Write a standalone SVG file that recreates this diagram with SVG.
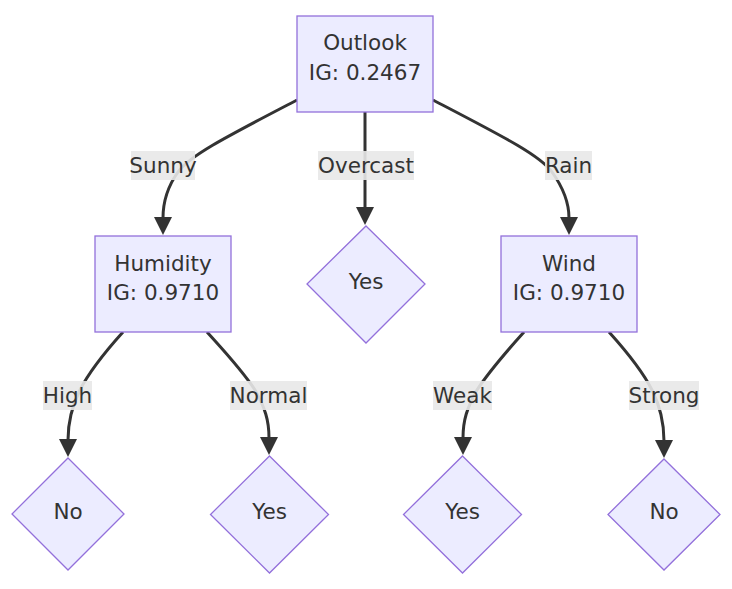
<svg xmlns="http://www.w3.org/2000/svg" width="732" height="589" viewBox="0 0 732 589">
<style>
.n{fill:#ECECFF;stroke:#9370DB;stroke-width:1.3}
.t{font-family:"DejaVu Sans",Verdana,sans-serif;font-size:21.5px;fill:#333;text-anchor:middle}
.e{fill:none;stroke:#333;stroke-width:3}
.lb{fill:#e8e8e8;opacity:0.9}
</style>
<defs>
<marker id="ah" markerUnits="userSpaceOnUse" markerWidth="20" markerHeight="20" viewBox="0 0 20 20" refX="1" refY="10" orient="auto">
<path d="M0,1 L18,10 L0,19 Z" fill="#333"/>
</marker>
</defs>
<rect width="732" height="589" fill="#fff"/>
<g id="edges">
<path class="e" d="M297,100 C230,135 190,155 178,172 C168,186 163,200 163,218" marker-end="url(#ah)"/>
<path class="e" d="M365,112 L365,208" marker-end="url(#ah)"/>
<path class="e" d="M433,100 C500,135 540,155 552,172 C562,186 569,200 569,218" marker-end="url(#ah)"/>
<path class="e" d="M123,332 C105,352 90,370 80,390 C71,408 68,425 68,440" marker-end="url(#ah)"/>
<path class="e" d="M207,332 C225,352 242,370 255,390 C265,408 269,420 269,438" marker-end="url(#ah)"/>
<path class="e" d="M524,332 C506,352 490,370 477,390 C467,408 463,420 463,438" marker-end="url(#ah)"/>
<path class="e" d="M609,332 C627,352 642,370 652,390 C661,408 664,425 664,441" marker-end="url(#ah)"/>
<g id="lbl-sunny"><rect class="lb" x="131" y="151" width="64" height="29"/><text class="t" x="163" y="173">Sunny</text></g>
<g id="lbl-overcast"><rect class="lb" x="318" y="151" width="96" height="29"/><text class="t" x="366" y="173">Overcast</text></g>
<g id="lbl-rain"><rect class="lb" x="545" y="151" width="47" height="29"/><text class="t" x="568.500" y="173">Rain</text></g>
<g id="lbl-high"><rect class="lb" x="43" y="381" width="49" height="29"/><text class="t" x="67.500" y="403">High</text></g>
<g id="lbl-normal"><rect class="lb" x="230" y="381" width="77" height="29"/><text class="t" x="268.500" y="403">Normal</text></g>
<g id="lbl-weak"><rect class="lb" x="433" y="381" width="59" height="29"/><text class="t" x="462.500" y="403">Weak</text></g>
<g id="lbl-strong"><rect class="lb" x="629" y="381" width="70" height="29"/><text class="t" x="664" y="403">Strong</text></g>
</g>
<g id="outlook"><rect class="n" x="297" y="16" width="136" height="96"/><text class="t" x="365" y="50">Outlook</text><text class="t" x="365" y="80">IG: 0.2467</text></g>
<g id="humidity"><rect class="n" x="95" y="236" width="136" height="96"/><text class="t" x="163" y="271">Humidity</text><text class="t" x="163" y="300">IG: 0.9710</text></g>
<g id="wind"><rect class="n" x="501" y="236" width="136" height="96"/><text class="t" x="569" y="271">Wind</text><text class="t" x="569" y="300">IG: 0.9710</text></g>
<g id="yes-overcast"><polygon class="n" points="366,226 425,284 366,343 307,284"/><text class="t" x="366" y="289">Yes</text></g>
<g id="no-high"><polygon class="n" points="68,458 124,514 68,570 12,514"/><text class="t" x="68" y="519">No</text></g>
<g id="yes-normal"><polygon class="n" points="269.500,456 328.500,514.500 269.500,573 210.500,514.500"/><text class="t" x="269.500" y="519">Yes</text></g>
<g id="yes-weak"><polygon class="n" points="462.500,456 521.500,514.500 462.500,573 403.500,514.500"/><text class="t" x="462.500" y="519">Yes</text></g>
<g id="no-strong"><polygon class="n" points="664,459 720,514.500 664,570 608,514.500"/><text class="t" x="664" y="519">No</text></g>
</svg>
